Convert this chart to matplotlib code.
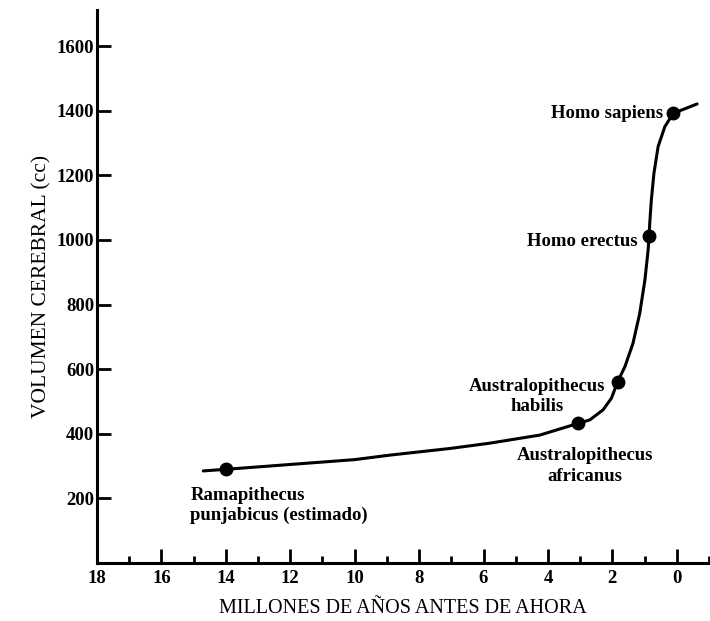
import matplotlib
matplotlib.use("Agg")
import matplotlib.pyplot as plt
from matplotlib.ticker import MultipleLocator

# curve (millions of years ago, brain volume cc)
curve_x = [14.7, 14.0, 12.0, 10.0, 8.9, 7.0, 5.8, 4.25, 3.07, 2.70, 2.29, 2.03,
           1.84, 1.61, 1.36, 1.15, 0.99, 0.89, 0.86, 0.84, 0.79, 0.71, 0.58,
           0.37, 0.11, -0.25, -0.63]
curve_y = [285, 290, 305, 320, 334, 355, 371, 396, 432, 443, 474, 510,
           560, 608, 680, 773, 876, 969, 1012, 1052, 1124, 1206, 1289,
           1351, 1392, 1406, 1421]

# species points
species_x = [14.0, 3.07, 1.84, 0.86, 0.11]
species_y = [290, 432, 560, 1012, 1392]

x_ticks = [18, 16, 14, 12, 10, 8, 6, 4, 2, 0]
y_ticks = [200, 400, 600, 800, 1000, 1200, 1400, 1600]

SERIF = ["Liberation Serif", "DejaVu Serif"]
plt.rcParams["font.family"] = SERIF

fig = plt.figure(figsize=(7.10, 6.21), dpi=100)
ax = fig.add_axes([0.1366, 0.0934, 0.862, 0.8906])

ax.plot(curve_x, curve_y, color="black", linewidth=2.2,
        solid_capstyle="round", solid_joinstyle="round")
ax.plot(species_x, species_y, "o", color="black", markersize=9)

ax.set_xlim(18, -1.0)
ax.set_ylim(0, 1712)

for side in ("top", "right"):
    ax.spines[side].set_visible(False)
for side in ("left", "bottom"):
    ax.spines[side].set_linewidth(2.2)

ax.set_xticks(x_ticks)
ax.xaxis.set_minor_locator(MultipleLocator(1))
ax.set_yticks(y_ticks)
ax.tick_params(axis="both", which="major", direction="in", length=10, width=2,
               labelsize=13.5)
ax.tick_params(axis="x", which="minor", direction="in", length=5, width=2)
ax.tick_params(axis="x", pad=5)
ax.tick_params(axis="y", pad=2)
for lab in ax.get_xticklabels() + ax.get_yticklabels():
    lab.set_fontweight("bold")

ax.set_xlabel("MILLONES DE AÑOS ANTES DE AHORA", fontsize=14.5, labelpad=9)
ax.set_ylabel("VOLUMEN CEREBRAL (cc)", fontsize=15.5, labelpad=4)

kw = dict(fontsize=13.5, fontweight="bold", linespacing=1.25)
ax.text(15.1, 178, "Ramapithecus\npunjabicus (estimado)", ha="left", va="center", **kw)
ax.text(2.84, 300, "Australopithecus\nafricanus", ha="center", va="center", **kw)
ax.text(4.35, 516, "Australopithecus\nhabilis", ha="center", va="center", **kw)
ax.text(1.22, 995, "Homo erectus", ha="right", va="center", **kw)
ax.text(0.43, 1390, "Homo sapiens", ha="right", va="center", **kw)

fig.savefig("out.png", dpi=100)
